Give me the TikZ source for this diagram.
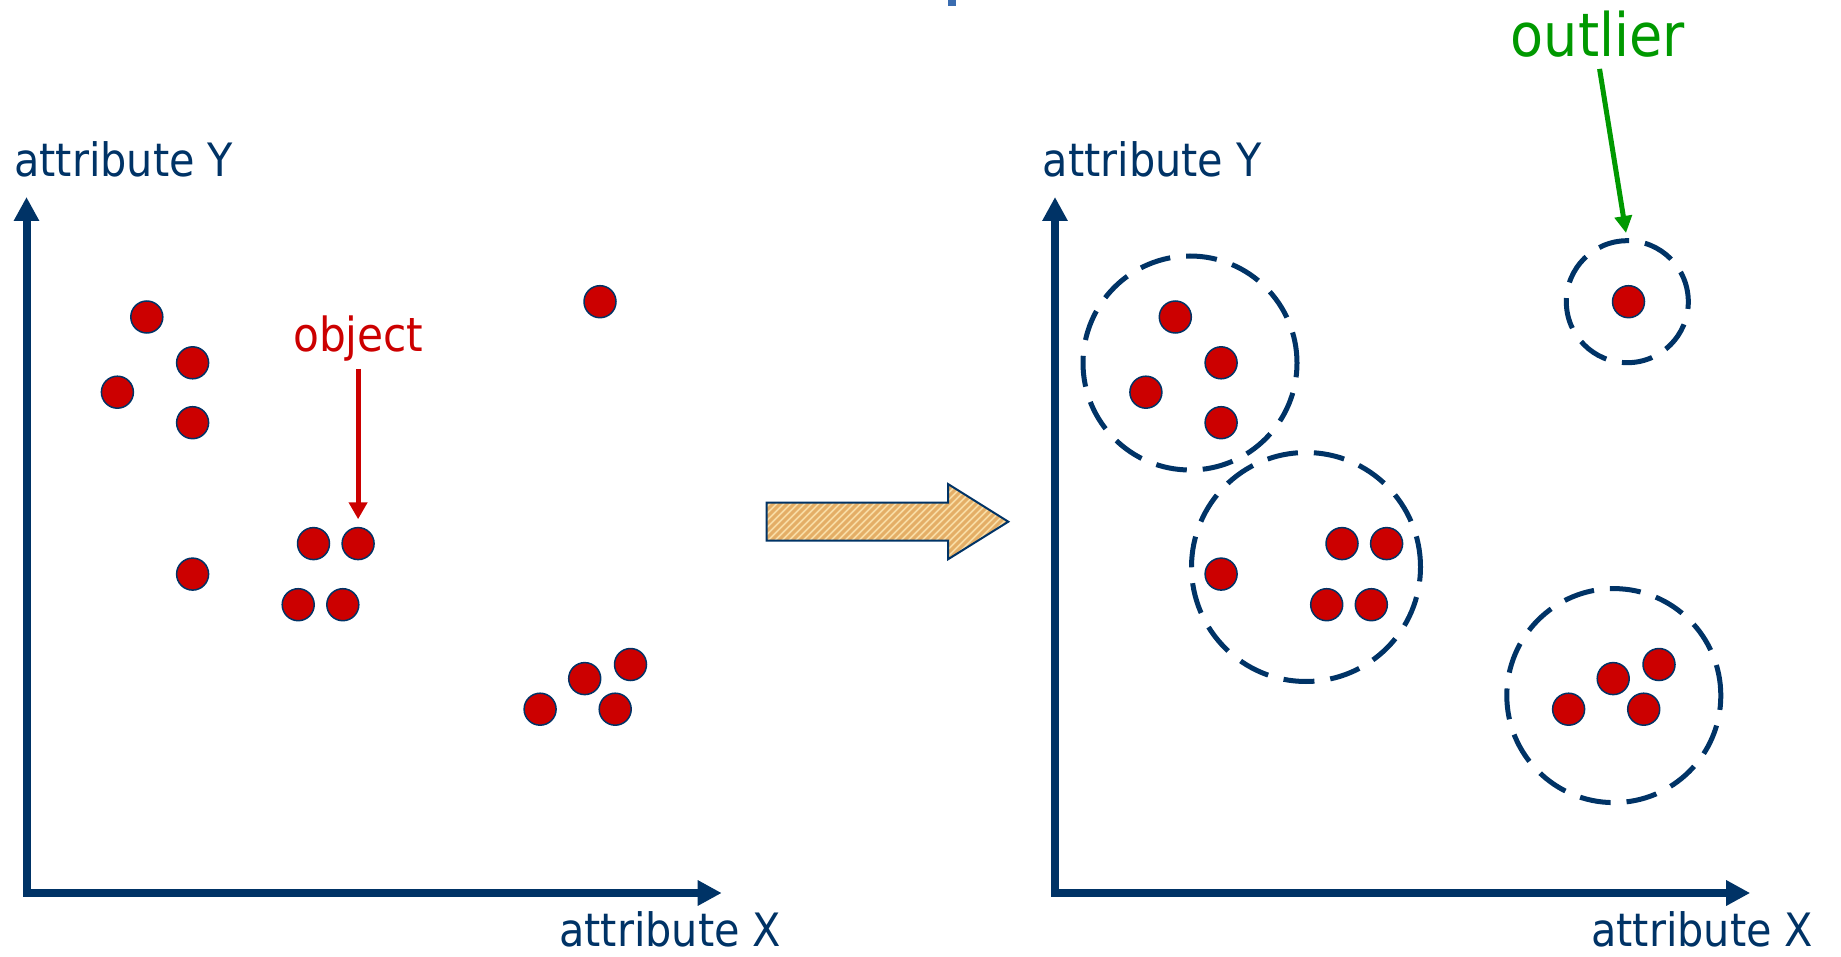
\documentclass[tikz,border=0pt]{standalone}
\usepackage{fontspec}
\setmainfont{DejaVu Sans Condensed}
\usetikzlibrary{arrows.meta}
\definecolor{navy}{RGB}{0,51,102}
\definecolor{dotred}{RGB}{204,0,0}
\definecolor{okgreen}{RGB}{0,153,0}
\definecolor{stripelight}{RGB}{249,221,166}
\definecolor{stripedark}{RGB}{228,174,102}
\definecolor{titleblue}{RGB}{58,108,176}
\tikzset{
  pt/.style={circle, minimum size=32pt, inner sep=0pt, fill=dotred, draw=navy, line width=1.5pt},
  cluster/.style={circle, inner sep=0pt, draw=navy, line width=5pt, dash pattern=on 31pt off 16pt},
  axis/.style={draw=navy, line width=8pt, line join=miter, {Triangle[length=24pt,width=24pt]}-{Triangle[length=24pt,width=24pt]}},
  axlabel/.style={anchor=base west, inner sep=0pt, text=navy, font=\fontsize{46}{50}\selectfont},
}
\begin{document}
\begin{tikzpicture}[x=1pt,y=-1pt]
\useasboundingbox (0,0) rectangle (1841,957);
% fragment of a cut-off title
\fill[titleblue] (948,0) rectangle (956,6);

% ---------- left panel ----------
\coordinate (Ltop) at (26.5,197);
\coordinate (Lorg) at (26.5,893);
\coordinate (Lright) at (721.7,893);
\draw[axis] (Ltop) -- (Lorg) -- (Lright);
\node[axlabel] (LY) at (14,177) {attribute Y};
\node[axlabel] (LX) at (559,946) {attribute X};

\foreach \n/\x/\y in {a/146.8/317.0, b/192.6/362.8, c/117.4/392.2, d/192.6/422.7,
  e/192.6/574.1, f/313.5/543.6, g/358.1/543.6, h/298.2/604.7, i/342.8/604.7,
  j/600.0/301.7, k/630.5/664.5, l/584.7/678.6, m/540.1/709.2, n/615.2/709.2}
  \node[pt] (L\n) at (\x,\y) {};

\node[anchor=base west, inner sep=0pt, text=dotred, font=\fontsize{47}{50}\selectfont] (obj) at (293,352) {object};
\draw[dotred, line width=5pt, -{Triangle[length=17pt,width=18pt]}, shorten <=7pt, shorten >=7.6pt] (obj.south -| Lg) -- (Lg.north);

% ---------- transition arrow ----------
\path[fill=stripelight] (766.7,502.7) -- (948,502.7) -- (948,484) -- (1008.3,521.7) -- (948,559.3) -- (948,540.7) -- (766.7,540.7) -- cycle;
\begin{scope}
  \clip (766.7,502.7) -- (948,502.7) -- (948,484) -- (1008.3,521.7) -- (948,559.3) -- (948,540.7) -- (766.7,540.7) -- cycle;
  \foreach \s in {700,707,...,1080}
    \draw[stripedark, line width=3pt] (\s,570) -- (\s+100,470);
\end{scope}
\draw[navy, line width=2pt, line join=miter] (766.7,502.7) -- (948,502.7) -- (948,484) -- (1008.3,521.7) -- (948,559.3) -- (948,540.7) -- (766.7,540.7) -- cycle;

% ---------- right panel ----------
\coordinate (Rtop) at (1055,197);
\coordinate (Rorg) at (1055,893);
\coordinate (Rright) at (1750.2,893);
\draw[axis] (Rtop) -- (Rorg) -- (Rright);
\node[axlabel] (RY) at (1042.5,177) {attribute Y};
\node[axlabel] (RX) at (1591,946) {attribute X};

\node[cluster, minimum size=214pt] (c1) at (1190,363) {};
\node[cluster, minimum size=229pt] (c2) at (1306,567) {};
\node[cluster, minimum size=122pt] (c3) at (1627.3,301.7) {};
\node[cluster, minimum size=214pt] (c4) at (1613.8,695.6) {};

\foreach \n/\x/\y in {a/146.8/317.0, b/192.6/362.8, c/117.4/392.2, d/192.6/422.7,
  e/192.6/574.1, f/313.5/543.6, g/358.1/543.6, h/298.2/604.7, i/342.8/604.7,
  j/600.0/301.7, k/630.5/664.5, l/584.7/678.6, m/540.1/709.2, n/615.2/709.2}
  \node[pt] (R\n) at (\x+1028.5,\y) {};

\node[anchor=base west, inner sep=0pt, text=okgreen, font=\fontsize{60}{64}\selectfont] (outl) at (1510.7,57) {outlier};
\coordinate (oltip) at (1626,233);
\draw[okgreen, line width=5pt, -{Triangle[length=17pt,width=17pt]}, shorten <=11pt] (outl.south) -- (oltip);
\end{tikzpicture}
\end{document}
